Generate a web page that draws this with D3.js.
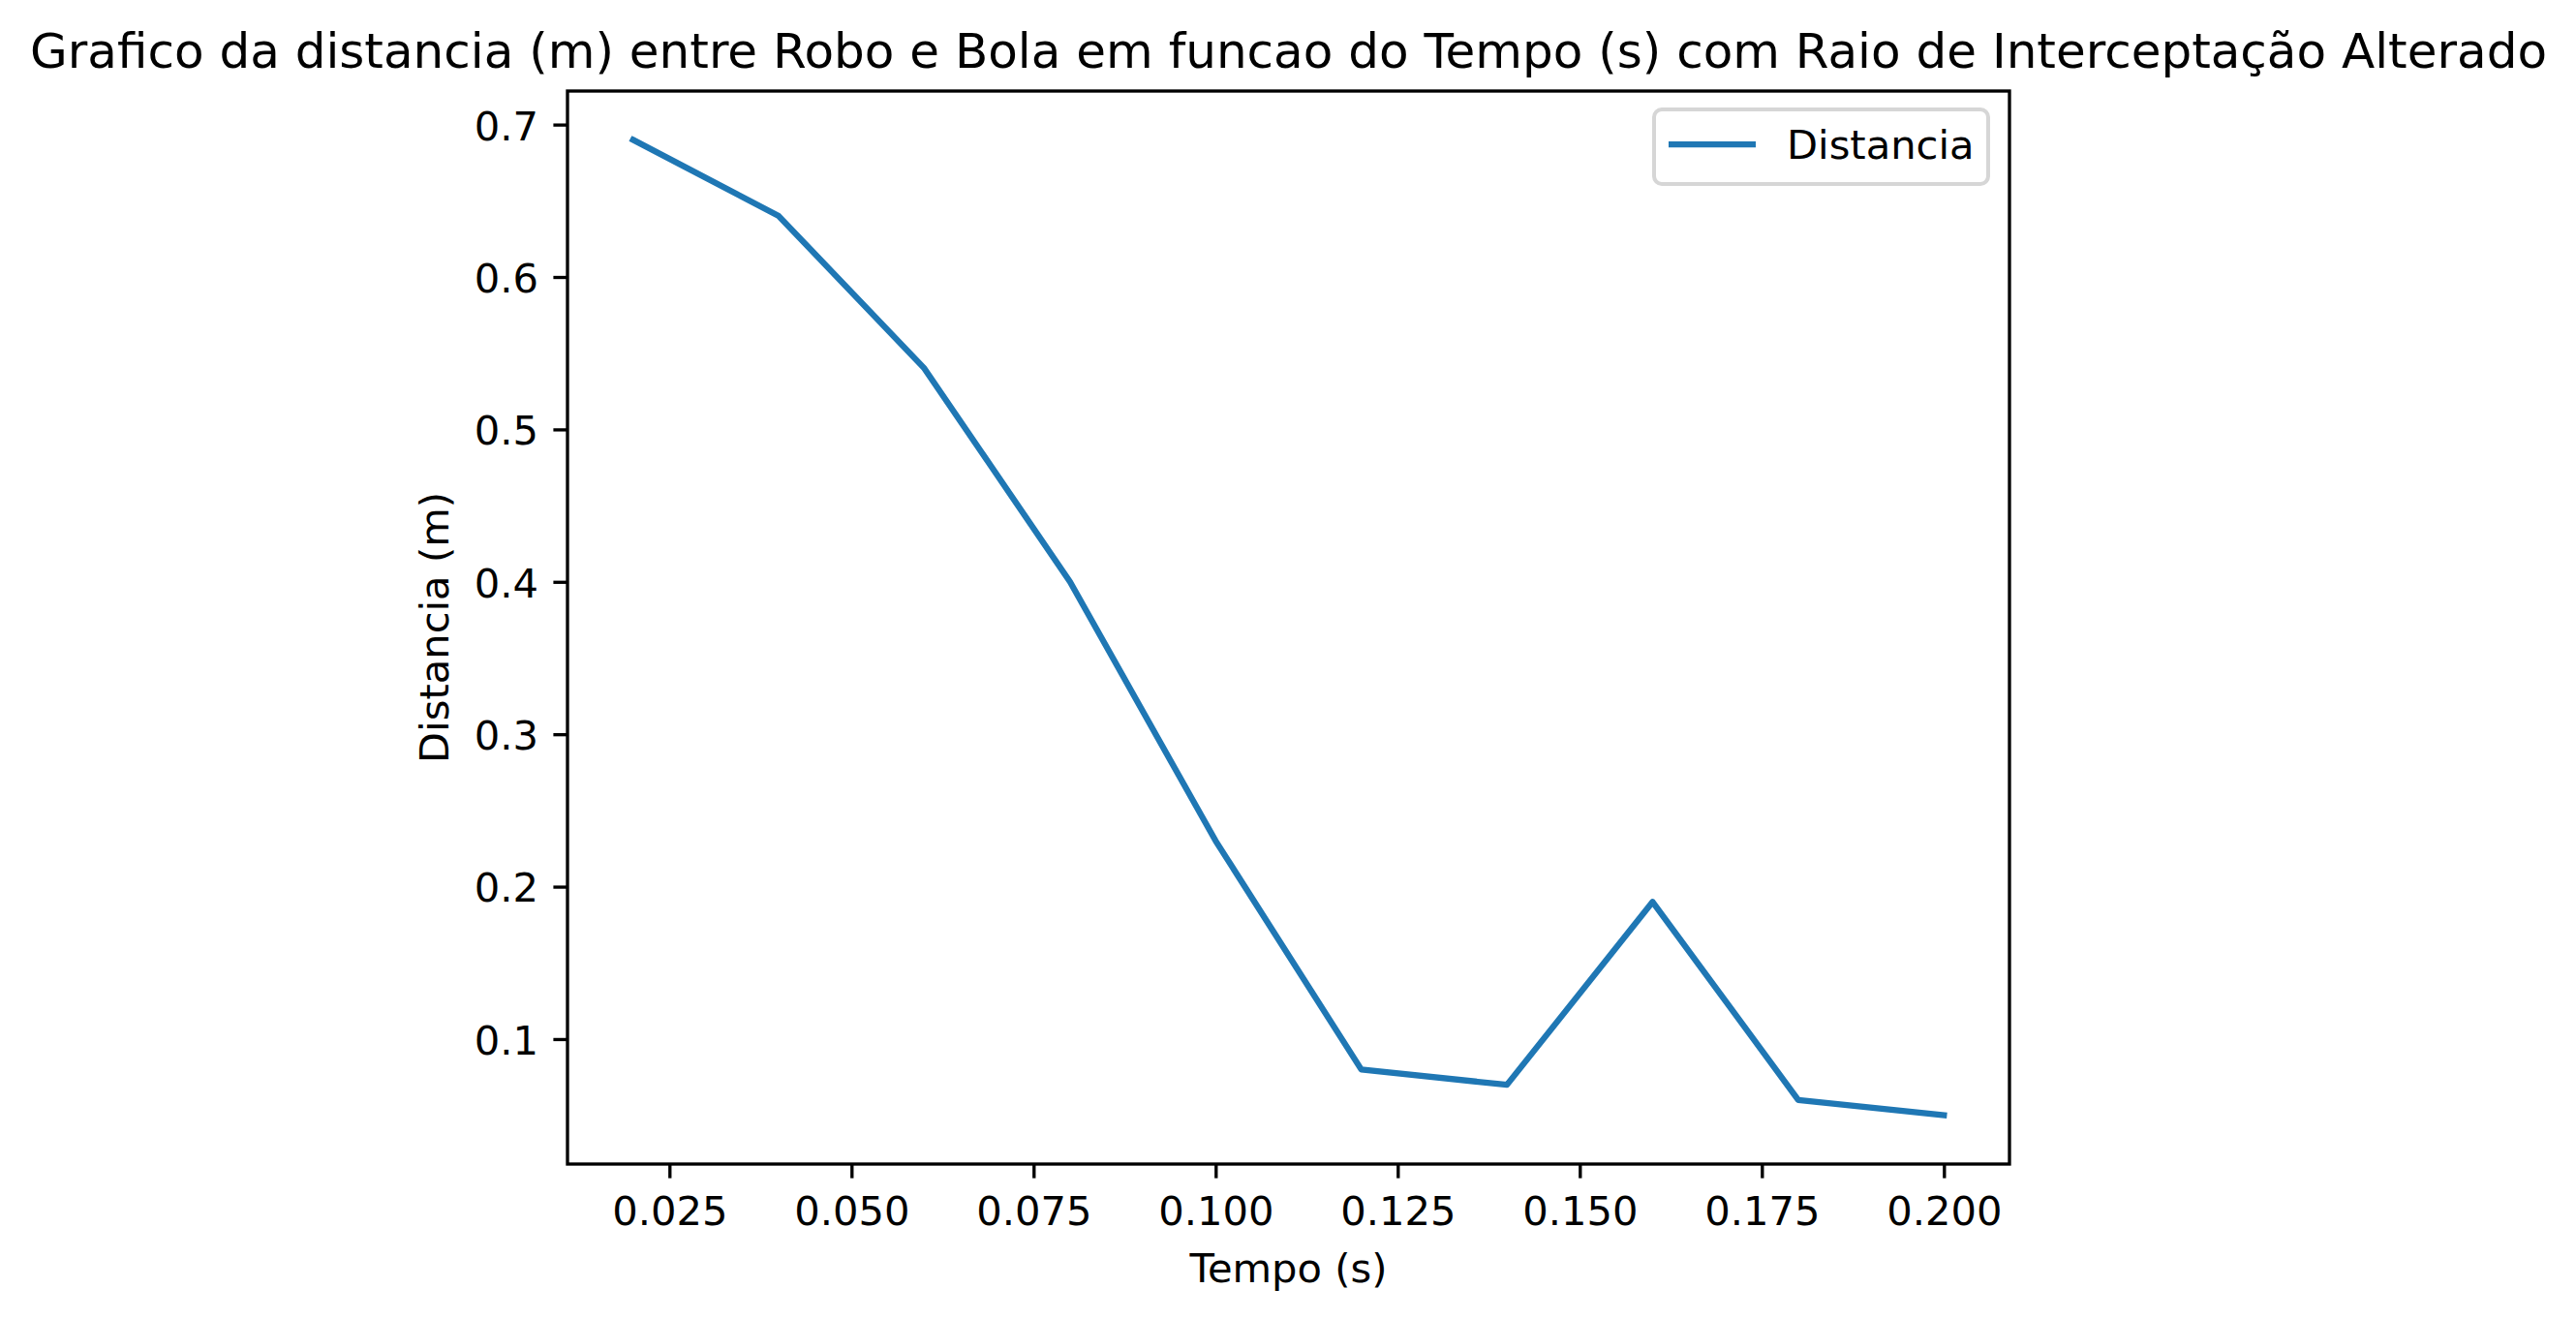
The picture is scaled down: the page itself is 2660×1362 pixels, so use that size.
<!DOCTYPE html>
<html>
<head>
<meta charset="utf-8">
<script src="https://cdn.jsdelivr.net/npm/d3@7"></script>
<style>
  body { margin: 0; background: #fff; }
  text { font-family: "DejaVu Sans", sans-serif; fill: #000; }
</style>
</head>
<body>
<div id="container-chart"></div>
<script>
// data
var tempo = [0.02, 0.04, 0.06, 0.08, 0.10, 0.12, 0.14, 0.16, 0.18, 0.20];
var distancia = [0.69, 0.64, 0.54, 0.40, 0.23, 0.08, 0.07, 0.19, 0.06, 0.05];
var xTicks = [0.025, 0.050, 0.075, 0.100, 0.125, 0.150, 0.175, 0.200];
var yTicks = [0.1, 0.2, 0.3, 0.4, 0.5, 0.6, 0.7];
var title = "Grafico da distancia (m) entre Robo e Bola em funcao do Tempo (s) com Raio de Interceptação Alterado";
var seriesName = "Distancia";

var width = 2660, height = 1362;
var plotLeft = 586, plotRight = 2075, plotTop = 94, plotBottom = 1202;
var lineColor = "#1f77b4";
var fs = 41.67;

var svg = d3.select("#container-chart")
  .append("svg")
  .attr("width", width)
  .attr("height", height);

// matplotlib style 5% margins
var xMin = d3.min(tempo), xMax = d3.max(tempo);
var yMin = d3.min(distancia), yMax = d3.max(distancia);
var xPad = (xMax - xMin) * 0.05, yPad = (yMax - yMin) * 0.05;

var x = d3.scaleLinear().domain([xMin - xPad, xMax + xPad]).range([plotLeft, plotRight]);
var y = d3.scaleLinear().domain([yMin - yPad, yMax + yPad]).range([plotBottom, plotTop]);

var xAxis = svg.append("g")
  .attr("transform", "translate(0," + plotBottom + ")")
  .call(d3.axisBottom(x).tickValues(xTicks).tickFormat(d3.format(".3f"))
        .tickSize(14.6).tickSizeOuter(0));
xAxis.select(".domain").remove();
xAxis.selectAll("line").attr("stroke", "#000").attr("stroke-width", 3.33);
xAxis.selectAll("text")
  .attr("y", 63).attr("dy", 0)
  .style("font-size", fs + "px")
  .style("font-family", "DejaVu Sans");

var yAxis = svg.append("g")
  .attr("transform", "translate(" + plotLeft + ",0)")
  .call(d3.axisLeft(y).tickValues(yTicks).tickFormat(d3.format(".1f"))
        .tickSize(14.6).tickSizeOuter(0));
yAxis.select(".domain").remove();
yAxis.selectAll("line").attr("stroke", "#000").attr("stroke-width", 3.33);
yAxis.selectAll("text")
  .attr("x", -30).attr("dy", "0.37em")
  .style("font-size", fs + "px")
  .style("font-family", "DejaVu Sans");

// the line
var line = d3.line()
  .x(function(d, i){ return x(tempo[i]); })
  .y(function(d){ return y(d); });

svg.append("path")
  .datum(distancia)
  .attr("d", line)
  .attr("fill", "none")
  .attr("stroke", lineColor)
  .attr("stroke-width", 6.25)
  .attr("stroke-linejoin", "round")
  .attr("stroke-linecap", "square");

// frame
svg.append("rect")
  .attr("x", plotLeft)
  .attr("y", plotTop)
  .attr("width", plotRight - plotLeft)
  .attr("height", plotBottom - plotTop)
  .attr("fill", "none")
  .attr("stroke", "#000")
  .attr("stroke-width", 3.33);

// labels
svg.append("text")
  .attr("x", (plotLeft + plotRight) / 2)
  .attr("y", 70)
  .attr("text-anchor", "middle")
  .style("font-size", "50px")
  .text(title);

svg.append("text")
  .attr("x", (plotLeft + plotRight) / 2)
  .attr("y", 1324)
  .attr("text-anchor", "middle")
  .style("font-size", fs + "px")
  .text("Tempo (s)");

svg.append("text")
  .attr("transform", "translate(463," + (plotTop + plotBottom) / 2 + ") rotate(-90)")
  .attr("text-anchor", "middle")
  .style("font-size", fs + "px")
  .text("Distancia (m)");

// legend
var legend = svg.append("g");
legend.append("rect")
  .attr("x", 1708)
  .attr("y", 113)
  .attr("width", 345)
  .attr("height", 77)
  .attr("rx", 8)
  .attr("fill", "#fff")
  .attr("fill-opacity", 0.8)
  .attr("stroke", "#d6d6d6")
  .attr("stroke-width", 4);
legend.append("line")
  .attr("x1", 1723).attr("x2", 1813)
  .attr("y1", 149).attr("y2", 149)
  .attr("stroke", lineColor)
  .attr("stroke-width", 6.25);
legend.append("text")
  .attr("x", 1845)
  .attr("y", 164)
  .style("font-size", fs + "px")
  .text(seriesName);
</script>
</body>
</html>
